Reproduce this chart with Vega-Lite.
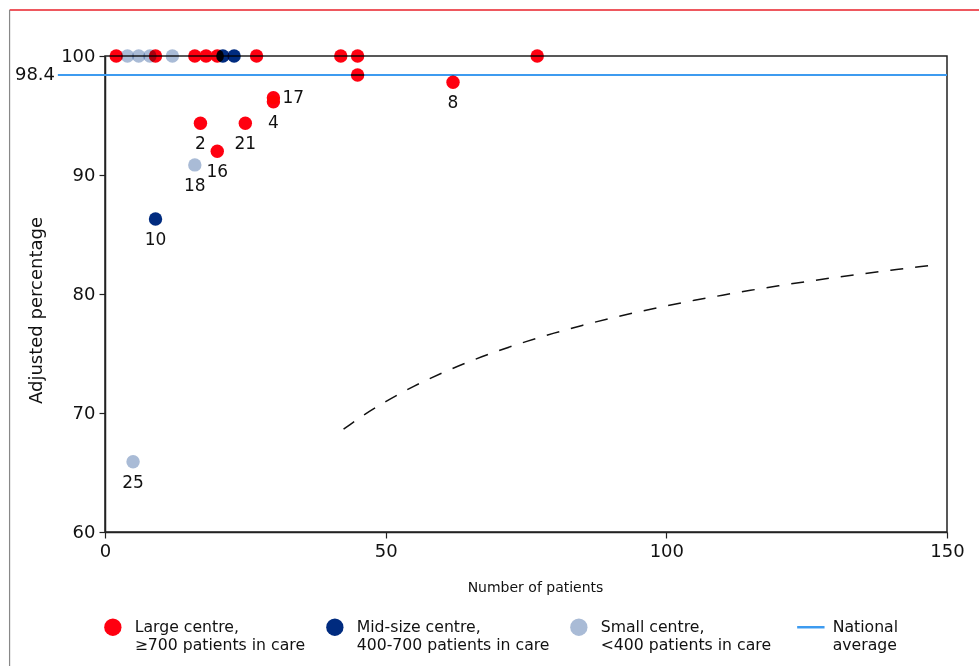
{
  "$schema": "https://vega.github.io/schema/vega-lite/v6.json",
  "width": 842,
  "height": 476,
  "autosize": {"type": "none"},
  "padding": {"left": 105, "top": 56, "right": 32, "bottom": 134},
  "background": "white",
  "config": {
    "font": "DejaVu Sans",
    "view": {"stroke": "#222", "strokeWidth": 1.5},
    "axis": {
      "grid": false,
      "domainColor": "#222",
      "domainWidth": 1.5,
      "tickColor": "#222",
      "tickWidth": 1.2,
      "tickSize": 6,
      "labelFlush": false,
      "labelFont": "DejaVu Sans",
      "labelFontSize": 18,
      "labelColor": "#111",
      "titleFont": "DejaVu Sans",
      "titleFontWeight": "normal",
      "titleColor": "#111"
    }
  },
  "datasets": {
    "one": [{}],
    "points": [
      {"patients": 2, "pct": 100, "group": "Large", "label": ""},
      {"patients": 9, "pct": 100, "group": "Large", "label": ""},
      {"patients": 16, "pct": 100, "group": "Large", "label": ""},
      {"patients": 18, "pct": 100, "group": "Large", "label": ""},
      {"patients": 20, "pct": 100, "group": "Large", "label": ""},
      {"patients": 27, "pct": 100, "group": "Large", "label": ""},
      {"patients": 42, "pct": 100, "group": "Large", "label": ""},
      {"patients": 45, "pct": 100, "group": "Large", "label": ""},
      {"patients": 77, "pct": 100, "group": "Large", "label": ""},
      {"patients": 45, "pct": 98.4, "group": "Large", "label": ""},
      {"patients": 62, "pct": 97.8, "group": "Large", "label": "8"},
      {"patients": 17, "pct": 94.35, "group": "Large", "label": "2"},
      {"patients": 20, "pct": 92.0, "group": "Large", "label": "16"},
      {"patients": 25, "pct": 94.35, "group": "Large", "label": "21"},
      {"patients": 30, "pct": 96.5, "group": "Large", "label": "17"},
      {"patients": 30, "pct": 96.15, "group": "Large", "label": "4"},
      {"patients": 21, "pct": 100, "group": "Mid", "label": ""},
      {"patients": 23, "pct": 100, "group": "Mid", "label": ""},
      {"patients": 9, "pct": 86.3, "group": "Mid", "label": "10"},
      {"patients": 4, "pct": 100, "group": "Small", "label": ""},
      {"patients": 6, "pct": 100, "group": "Small", "label": ""},
      {"patients": 8, "pct": 100, "group": "Small", "label": ""},
      {"patients": 12, "pct": 100, "group": "Small", "label": ""},
      {"patients": 16, "pct": 90.85, "group": "Small", "label": "18"},
      {"patients": 5, "pct": 65.9, "group": "Small", "label": "25"}
    ],
    "limit": [
      {"n": 42.5, "lower": 68.64},
      {"n": 45, "lower": 69.48},
      {"n": 50, "lower": 70.96},
      {"n": 55, "lower": 72.24},
      {"n": 60, "lower": 73.35},
      {"n": 65, "lower": 74.34},
      {"n": 70, "lower": 75.21},
      {"n": 75, "lower": 76.0},
      {"n": 80, "lower": 76.71},
      {"n": 85, "lower": 77.36},
      {"n": 90, "lower": 77.95},
      {"n": 95, "lower": 78.5},
      {"n": 100, "lower": 79.0},
      {"n": 105, "lower": 79.47},
      {"n": 110, "lower": 79.9},
      {"n": 115, "lower": 80.31},
      {"n": 120, "lower": 80.69},
      {"n": 125, "lower": 81.05},
      {"n": 130, "lower": 81.39},
      {"n": 135, "lower": 81.7},
      {"n": 140, "lower": 82.0},
      {"n": 145, "lower": 82.29},
      {"n": 148, "lower": 82.45}
    ]
  },
  "layer": [
    {
      "data": {"name": "one"},
      "mark": {"type": "rule", "color": "#e8202a", "strokeWidth": 1.5, "clip": false},
      "encoding": {
        "x": {"datum": -17.0, "type": "quantitative", "scale": {"domain": [0, 150], "nice": false, "zero": false}},
        "x2": {"datum": 155.7},
        "y": {"datum": 103.87, "type": "quantitative", "scale": {"domain": [60, 100], "nice": false, "zero": false}}
      }
    },
    {
      "data": {"name": "one"},
      "mark": {"type": "rule", "color": "#888888", "strokeWidth": 1.2, "clip": false},
      "encoding": {
        "x": {"datum": -17.0, "type": "quantitative"},
        "y": {"datum": 103.87, "type": "quantitative"},
        "y2": {"datum": 48.7}
      }
    },
    {
      "data": {"name": "one"},
      "mark": {"type": "rule", "strokeWidth": 2, "clip": false},
      "encoding": {
        "x": {"datum": -8.4, "type": "quantitative"},
        "x2": {"datum": 150},
        "y": {"datum": 98.4, "type": "quantitative"},
        "color": {"datum": "National"}
      }
    },
    {
      "data": {"name": "limit"},
      "mark": {"type": "line", "color": "#111", "strokeWidth": 1.5, "strokeDash": [13, 12], "interpolate": "monotone"},
      "encoding": {
        "x": {"field": "n", "type": "quantitative"},
        "y": {"field": "lower", "type": "quantitative"}
      }
    },
    {
      "data": {"name": "points"},
      "mark": {"type": "point", "shape": "circle", "filled": true, "size": 180, "opacity": 1, "blend": "multiply"},
      "encoding": {
        "x": {"field": "patients", "type": "quantitative", "title": "Number of patients",
          "axis": {"values": [0, 50, 100, 150], "labelPadding": 4, "titleFontSize": 14, "titleX": 430, "titleY": 55, "titleBaseline": "middle", "titleAlign": "center"}},
        "y": {"field": "pct", "type": "quantitative", "title": "Adjusted percentage",
          "axis": {"values": [60, 70, 80, 90, 100], "labelPadding": 4, "titleFontSize": 18, "titleX": -69, "titleY": 254, "titleBaseline": "middle", "titleAlign": "center", "titleAngle": -90}},
        "color": {
          "field": "group", "type": "nominal",
          "scale": {"domain": ["Large", "Mid", "Small", "National"], "range": ["#ff0010", "#002b7f", "#a9bbd6", "#3d9bf0"]},
          "legend": {
            "orient": "none", "legendX": 0, "legendY": 563, "direction": "horizontal", "title": null,
            "symbolType": "circle", "symbolSize": 300, "symbolOpacity": 1,
            "labelFont": "DejaVu Sans", "labelFontSize": 15.7, "labelColor": "#111", "labelLimit": 400, "labelOffset": 14,
            "columnPadding": 20,
            "labelExpr": "datum.value === 'Large' ? ['Large centre,', '≥700 patients in care'] : datum.value === 'Mid' ? ['Mid-size centre,', '400-700 patients in care'] : datum.value === 'Small' ? ['Small centre,', '<400 patients in care'] : ['National', 'average']",
            "encode": {
              "symbols": {
                "update": {
                  "shape": {"signal": "datum.value === 'National' ? 'stroke' : 'circle'"},
                  "stroke": {"scale": "color", "field": "value"},
                  "strokeWidth": {"signal": "datum.value === 'National' ? 2.5 : 0"},
                  "size": {"signal": "datum.value === 'National' ? 750 : 300"}
                }
              }
            }
          }
        }
      }
    },
    {
      "data": {"name": "points"},
      "transform": [{"filter": "datum.label !== '' && datum.label !== '17'"}],
      "mark": {"type": "text", "fontSize": 17, "color": "#111", "baseline": "middle", "align": "center", "dy": 21},
      "encoding": {
        "x": {"field": "patients", "type": "quantitative"},
        "y": {"field": "pct", "type": "quantitative"},
        "text": {"field": "label"}
      }
    },
    {
      "data": {"name": "points"},
      "transform": [{"filter": "datum.label === '17'"}],
      "mark": {"type": "text", "fontSize": 17, "color": "#111", "baseline": "middle", "align": "left", "dx": 9},
      "encoding": {
        "x": {"field": "patients", "type": "quantitative"},
        "y": {"field": "pct", "type": "quantitative"},
        "text": {"field": "label"}
      }
    },
    {
      "data": {"name": "one"},
      "mark": {"type": "text", "fontSize": 18, "color": "#111", "baseline": "middle", "align": "right", "clip": false},
      "encoding": {
        "x": {"datum": -8.9, "type": "quantitative"},
        "y": {"datum": 98.4, "type": "quantitative"},
        "text": {"value": "98.4"}
      }
    }
  ]
}
